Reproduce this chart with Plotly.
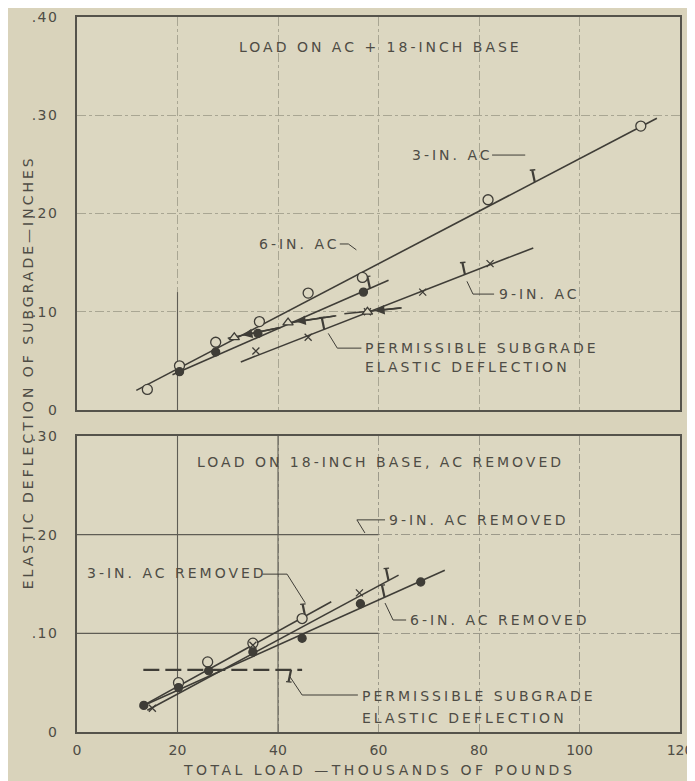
import numpy as np
import plotly.graph_objects as go

# ---------------- data ----------------
# Top panel: load on AC + 18-inch base
top_3in_x = [14.0, 20.4, 27.6, 36.3, 46.0, 56.8, 81.8, 112.2]
top_3in_y = [0.021, 0.045, 0.069, 0.090, 0.119, 0.135, 0.214, 0.289]
top_6in_x = [20.4, 27.6, 36.0, 57.0]
top_6in_y = [0.039, 0.059, 0.078, 0.120]
top_9in_x = [35.6, 46.0, 57.8, 68.8, 82.2]
top_9in_y = [0.060, 0.074, 0.100, 0.120, 0.149]
top_perm_x = [31.3, 42.0, 57.8]
top_perm_y = [0.074, 0.089, 0.100]

# fitted lines (start, end)
top_fit_3in = ([11.8, 115.4], [0.020, 0.297])
top_fit_6in = ([19.0, 62.0], [0.036, 0.132])
top_fit_9in = ([32.6, 90.8], [0.049, 0.165])

# permissible arrows: tail (x,y) -> head (x,y)
top_perm_tail_x = [40.5, 51.6, 64.6]
top_perm_tail_y = [0.084, 0.096, 0.104]
top_perm_head_x = [33.0, 43.6, 59.3]
top_perm_head_y = [0.076, 0.090, 0.101]
top_perm_seg_start_x = [30.0, 42.6, 53.2]
top_perm_seg_start_y = [0.073, 0.089, 0.098]

# tick marks on the fitted lines (x positions)
top_tick_3in = [91.1]
top_tick_6in = [58.3]
top_tick_9in = [49.2, 77.2]

# Bottom panel: load on 18-inch base, AC removed
bot_3in_x = [20.2, 26.0, 35.0, 44.8]
bot_3in_y = [0.050, 0.071, 0.090, 0.115]
bot_6in_x = [13.3, 20.2, 26.2, 35.0, 44.8, 56.4, 68.4]
bot_6in_y = [0.027, 0.045, 0.062, 0.081, 0.095, 0.130, 0.152]
bot_9in_x = [15.0, 35.0, 56.2]
bot_9in_y = [0.024, 0.088, 0.141]

bot_fit_3in = ([12.5, 50.6], [0.025, 0.132])
bot_fit_9in = ([14.0, 64.0], [0.022, 0.159])
bot_fit_6in = ([12.5, 73.2], [0.025, 0.164])
bot_perm_line = ([13.2, 44.8], [0.063, 0.063])

bot_tick_3in = [45.4]
bot_tick_9in = [62.0]
bot_tick_6in = [61.2]
bot_tick_perm = [42.6]

# tick labels
x_ticks = [0, 20, 40, 60, 80, 100, 120]
x_ticktext = ["0", "20", "40", "60", "80", "100", "120"]
top_yticks = [0, 0.1, 0.2, 0.3, 0.4]
top_yticktext = ["0", ".10", ".20", ".30", ".40"]
bot_yticks = [0, 0.1, 0.2, 0.3]
bot_yticktext = ["0", ".10", ".20", ".30"]

# grid segments drawn solid (reference drafting grid)
top_solid_vx = [20]
top_solid_vtop = 0.12
bot_solid_vx = [20, 40]
bot_solid_hy = [0.1, 0.2]
bot_solid_hend = 60

# label texts and leader lines (data coordinates)
top_labels = [
    ("LOAD ON AC + 18-INCH BASE", 31.8, 0.3695),
    ("3-IN. AC", 66.3, 0.2595),
    ("6-IN. AC", 35.8, 0.169),
    ("9-IN. AC", 83.6, 0.118),
    ("PERMISSIBLE SUBGRADE", 56.9, 0.063),
    ("ELASTIC DEFLECTION", 56.9, 0.044),
]
top_leaders = [
    ([82.6, 89.2], [0.2595, 0.2595]),
    ([52.3, 54.0, 55.6], [0.169, 0.169, 0.163]),
    ([83.0, 78.8, 77.6], [0.118, 0.118, 0.131]),
    ([56.6, 51.8, 50.0], [0.063, 0.063, 0.078]),
]
bot_labels = [
    ("LOAD ON 18-INCH BASE, AC REMOVED", 23.5, 0.2736),
    ("9-IN. AC REMOVED", 61.7, 0.2149),
    ("3-IN. AC REMOVED", 1.6, 0.161),
    ("6-IN. AC REMOVED", 65.9, 0.1135),
    ("PERMISSIBLE SUBGRADE", 56.3, 0.0365),
    ("ELASTIC DEFLECTION", 56.3, 0.0142),
]
bot_leaders = [
    ([61.3, 55.7, 57.3], [0.215, 0.215, 0.2017]),
    ([36.9, 41.8, 45.4], [0.160, 0.160, 0.131]),
    ([65.5, 62.9, 61.3], [0.1135, 0.1135, 0.1307]),
    ([55.9, 44.8, 42.4], [0.0375, 0.0375, 0.0558]),
]

# ---------------- style ----------------
INK = "#3f3d37"
TXT = "#4e4c45"
BG = "#d9d3bb"
PLOT_BG = "#dcd7c1"
GRID_TOP = "#a9a693"
GRID_BOT = "#9c998a"
GRID_SOLID = "#5f5d55"
FONT = "DejaVu Sans"


def spaced(t, ls=3):
    return f'<span style="letter-spacing:{ls}px">{t}</span>'


fig = go.Figure()


def line_at(fit, x):
    return float(np.interp(x, fit[0], fit[1]))


def add_line(xs, ys, xa, ya, width=1.6, dash="solid", color=INK):
    fig.add_trace(go.Scatter(x=xs, y=ys, mode="lines", xaxis=xa, yaxis=ya,
                             line=dict(color=color, width=width, dash=dash),
                             hoverinfo="skip", showlegend=False))


def add_pts(xs, ys, xa, ya, symbol, size, fill=None):
    fig.add_trace(go.Scatter(x=xs, y=ys, mode="markers", xaxis=xa, yaxis=ya,
                             marker=dict(symbol=symbol, size=size,
                                         color=fill if fill else INK,
                                         line=dict(color=INK, width=1.3)),
                             showlegend=False))


def add_ticks(fit, xs, xa, ya, sign=1):
    for x in xs:
        y0 = line_at(fit, x)
        add_line([x, x - 0.5], [y0, y0 + sign * 0.012], xa, ya, width=2.2)
        add_line([x - 1.0, x + 0.1], [y0 + sign * 0.012, y0 + sign * 0.0125], xa, ya, width=1.3)


# solid grid parts
for gx in top_solid_vx:
    add_line([gx, gx], [0, top_solid_vtop], "x", "y", width=1.1, color=GRID_SOLID)
for gx in bot_solid_vx:
    add_line([gx, gx], [0, 0.30], "x2", "y2", width=1.1, color=GRID_SOLID)
for gy in bot_solid_hy:
    add_line([0, bot_solid_hend], [gy, gy], "x2", "y2", width=1.1, color=GRID_SOLID)

# ----- top panel -----
for fit in (top_fit_3in, top_fit_6in, top_fit_9in):
    add_line(fit[0], fit[1], "x", "y")
for i in range(len(top_perm_x)):
    add_line([top_perm_seg_start_x[i], top_perm_tail_x[i]],
             [top_perm_seg_start_y[i], top_perm_tail_y[i]], "x", "y", width=1.6)
add_ticks(top_fit_3in, top_tick_3in, "x", "y")
add_ticks(top_fit_6in, top_tick_6in, "x", "y")
add_ticks(top_fit_9in, top_tick_9in, "x", "y")
add_pts(top_3in_x, top_3in_y, "x", "y", "circle", 10, fill=PLOT_BG)
add_pts(top_6in_x, top_6in_y, "x", "y", "circle", 8)
add_pts(top_9in_x, top_9in_y, "x", "y", "x-thin-open", 7)
add_pts(top_perm_x, top_perm_y, "x", "y", "triangle-up", 9, fill=PLOT_BG)
for xs, ys in top_leaders:
    add_line(xs, ys, "x", "y", width=1.0)

# ----- bottom panel -----
for fit in (bot_fit_3in, bot_fit_9in, bot_fit_6in):
    add_line(fit[0], fit[1], "x2", "y2")
add_line(bot_perm_line[0], bot_perm_line[1], "x2", "y2", width=2.4, dash="16px,6px")
add_ticks(bot_fit_3in, bot_tick_3in, "x2", "y2")
add_ticks(bot_fit_9in, bot_tick_9in, "x2", "y2")
add_ticks(bot_fit_6in, bot_tick_6in, "x2", "y2")
add_ticks(bot_perm_line, bot_tick_perm, "x2", "y2", sign=-1)
add_pts(bot_3in_x, bot_3in_y, "x2", "y2", "circle", 10, fill=PLOT_BG)
add_pts(bot_6in_x, bot_6in_y, "x2", "y2", "circle", 8)
add_pts(bot_9in_x, bot_9in_y, "x2", "y2", "x-thin-open", 7)
for xs, ys in bot_leaders:
    add_line(xs, ys, "x2", "y2", width=1.0)

annotations = []
for i in range(len(top_perm_x)):
    annotations.append(dict(x=top_perm_head_x[i], y=top_perm_head_y[i],
                            ax=top_perm_tail_x[i], ay=top_perm_tail_y[i],
                            xref="x", yref="y", axref="x", ayref="y",
                            showarrow=True, arrowhead=2, arrowsize=1.2,
                            arrowwidth=1.6, arrowcolor=INK, text=""))
for t, x, y in top_labels:
    annotations.append(dict(text=spaced(t), x=x, y=y, xref="x", yref="y",
                            xanchor="left", yanchor="middle", showarrow=False,
                            font=dict(family=FONT, size=14, color=TXT)))
for t, x, y in bot_labels:
    annotations.append(dict(text=spaced(t), x=x, y=y, xref="x2", yref="y2",
                            xanchor="left", yanchor="middle", showarrow=False,
                            font=dict(family=FONT, size=14, color=TXT)))
annotations.append(dict(text=spaced("ELASTIC DEFLECTION OF SUBGRADE—INCHES", 3),
                        x=-0.098, y=0.503, xref="paper", yref="paper",
                        textangle=-90, showarrow=False,
                        font=dict(family=FONT, size=14, color=TXT)))
annotations.append(dict(text=spaced("TOTAL LOAD —THOUSANDS OF POUNDS", 3.5),
                        x=0.5, y=-0.053, xref="paper", yref="paper",
                        xanchor="center", yanchor="middle", showarrow=False,
                        font=dict(family=FONT, size=14, color=TXT)))

axis_common = dict(showline=True, linecolor="#55534b", linewidth=1.5, mirror=True,
                   zeroline=False, automargin=False, ticklabeloverflow="allow",
                   tickfont=dict(family=FONT, size=14, color=TXT))

# The page body adds an 8px offset; the figure size/margins compensate for it.
fig.update_layout(
    width=687, height=773,
    margin=dict(l=69, r=15, t=9, b=49),
    paper_bgcolor=BG, plot_bgcolor=PLOT_BG,
    showlegend=False,
    annotations=annotations,
    xaxis=dict(domain=[0, 1], range=[0, 120], anchor="y", tickvals=x_ticks,
               showticklabels=False, showgrid=True, gridcolor=GRID_TOP,
               griddash="dashdot", gridwidth=1, **axis_common),
    yaxis=dict(domain=[0.4503, 1], range=[0, 0.40], anchor="x",
               tickvals=top_yticks, ticktext=[spaced(t, 1.5) for t in top_yticktext],
               ticks="outside", ticklen=14, tickcolor=BG,
               showgrid=True, gridcolor=GRID_TOP, griddash="dashdot", gridwidth=1,
               **axis_common),
    xaxis2=dict(domain=[0, 1], range=[0, 120], anchor="y2", tickvals=x_ticks,
                ticktext=x_ticktext,
                ticks="outside", ticklen=4, tickcolor=BG,
                showgrid=True, gridcolor=GRID_BOT, griddash="dashdot", gridwidth=1,
                **axis_common),
    yaxis2=dict(domain=[0, 0.414], range=[0, 0.30], anchor="x2",
                tickvals=bot_yticks, ticktext=[spaced(t, 1.5) for t in bot_yticktext],
                ticks="outside", ticklen=14, tickcolor=BG,
                showgrid=True, gridcolor=GRID_BOT, griddash="dashdot", gridwidth=1,
                **axis_common),
)

fig.write_html("out.html")
